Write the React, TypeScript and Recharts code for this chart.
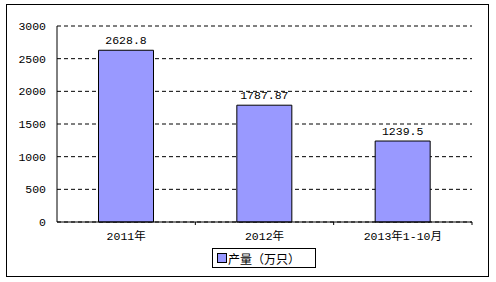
import { Bar, BarChart, CartesianGrid, LabelList, Legend, XAxis, YAxis } from "recharts"

const categories = ["2011年", "2012年", "2013年1-10月"]
const output = [2628.8, 1787.87, 1239.5]
const yTicks = [0, 500, 1000, 1500, 2000, 2500, 3000]
const seriesName = "产量（万只）"

const data = categories.map((name, i) => ({ name, value: output[i] }))

// wide bitmap-like font in the reference: mono digits, CJK fallback
const font = "'Liberation Mono', 'Noto Sans CJK SC', monospace"
const plotLeft = 57
const plotRight = 472
const halfBand = (plotRight - plotLeft) / categories.length / 2

function CategoryTick(props: any) {
  const { x, y, payload } = props
  return (
    <g>
      <line x1={x + halfBand} y1={y} x2={x + halfBand} y2={y + 3} stroke="#000" />
      <text x={x} y={y + 18} textAnchor="middle" fontSize={11.5} fontFamily={font} fill="#000">
        {payload.value}
      </text>
    </g>
  )
}

function LegendBox() {
  return (
    <div style={{ display: "flex", justifyContent: "flex-start", paddingLeft: 212 }}>
      <div
        style={{
          border: "1px solid #000",
          height: 18,
          width: 102,
          display: "flex",
          alignItems: "center",
          fontFamily: "'Noto Sans CJK SC', sans-serif",
          fontSize: 12,
          color: "#000",
          boxSizing: "content-box",
        }}
      >
        <span
          style={{
            display: "inline-block",
            width: 8,
            height: 8,
            background: "#9999ff",
            border: "1px solid #000",
            marginLeft: 4,
            marginRight: 1,
          }}
        />
        <span>{seriesName}</span>
      </div>
    </div>
  )
}

export default function App() {
  return (
    <div style={{ position: "absolute", left: 0, top: 0, width: 496, height: 282, background: "#fff" }}>
      <div
        style={{
          position: "absolute",
          left: 6,
          top: 4,
          width: 481,
          height: 271,
          border: "1px solid #000",
        }}
      />
      <BarChart
        width={496}
        height={282}
        data={data}
        margin={{ top: 26, right: 24, left: 0, bottom: 14 }}
        barCategoryGap="30%"
      >
        <CartesianGrid vertical={false} stroke="#000" strokeDasharray="4 3" />
        <XAxis
          dataKey="name"
          height={26}
          axisLine={{ stroke: "#000" }}
          tickLine={false}
          tickSize={0}
          tickMargin={0}
          tick={<CategoryTick />}
          interval={0}
        />
        <YAxis
          width={57}
          domain={[0, 3000]}
          ticks={yTicks}
          axisLine={{ stroke: "#000" }}
          tickLine={false}
          tickSize={0}
          tickMargin={11}
          tick={{ fontSize: 11.5, fontFamily: font, fill: "#000" }}
        />
        <Legend verticalAlign="bottom" height={20} content={<LegendBox />} />
        <Bar dataKey="value" name={seriesName} fill="#9999ff" stroke="#000" strokeWidth={1} isAnimationActive={false}>
          <LabelList dataKey="value" position="top" offset={6} fontSize={11.5} fontFamily={font} fill="#000" />
        </Bar>
      </BarChart>
    </div>
  )
}
